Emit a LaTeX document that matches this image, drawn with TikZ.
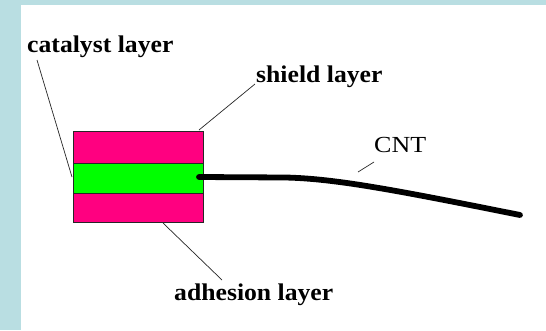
\documentclass[tikz,border=0pt]{standalone}
\usepackage{fontspec}
\setmainfont{Liberation Serif}
\definecolor{bgblue}{RGB}{185,222,226}
\definecolor{pinklayer}{RGB}{255,0,128}
\definecolor{greenlayer}{RGB}{0,255,0}
\begin{document}
\begin{tikzpicture}[x=1pt,y=-1pt,
  layerbox/.style={draw=black!85,line width=0.9pt},
  lbl/.style={font=\fontsize{24}{26}\selectfont\bfseries,anchor=base west,inner sep=0pt,xscale=1.07},
  lblreg/.style={font=\fontsize{23}{25}\selectfont,anchor=base west,inner sep=0pt,xscale=1.13},
  leader/.style={draw=black!85,line width=0.7pt},
  tube/.style={draw=black,line width=5.8pt,line cap=round,line join=round}]
\useasboundingbox (0,0) rectangle (546,330);
\fill[bgblue] (0,0) rectangle (546,330);
\fill[white] (21,5) rectangle (546,330);
% layers
\draw[layerbox,fill=pinklayer] (73,131) rectangle (203,163);
\draw[layerbox,fill=greenlayer] (73,163) rectangle (203,193);
\draw[layerbox,fill=pinklayer] (73,193) rectangle (203,222);
% labels
\node[lbl] (cat) at (27,52) {catalyst layer};
\node[lbl] (shi) at (256,82) {shield layer};
\node[lblreg] (cnt) at (374,152) {CNT};
\node[lbl] (adh) at (174,300) {adhesion layer};
% leader end points
\coordinate (catA) at (37,60);
\coordinate (catB) at (72,177);
\coordinate (shiA) at (255,84);
\coordinate (shiB) at (199,130);
\coordinate (adhA) at (163,223);
\coordinate (adhB) at (222,280);
\coordinate (cntA) at (374,162);
\coordinate (cntB) at (358,172);
\draw[leader] (catA) -- (catB);
\draw[leader] (shiA) -- (shiB);
\draw[leader] (adhA) -- (adhB);
\draw[leader] (cntA) -- (cntB);
% nanotube
\coordinate (t0) at (199,177);
\coordinate (t1) at (285,177.5);
\coordinate (t2) at (520,215);
\draw[tube] (t0) -- (t1) .. controls (335,178.5) and (395,190) .. (t2);
\end{tikzpicture}
\end{document}
